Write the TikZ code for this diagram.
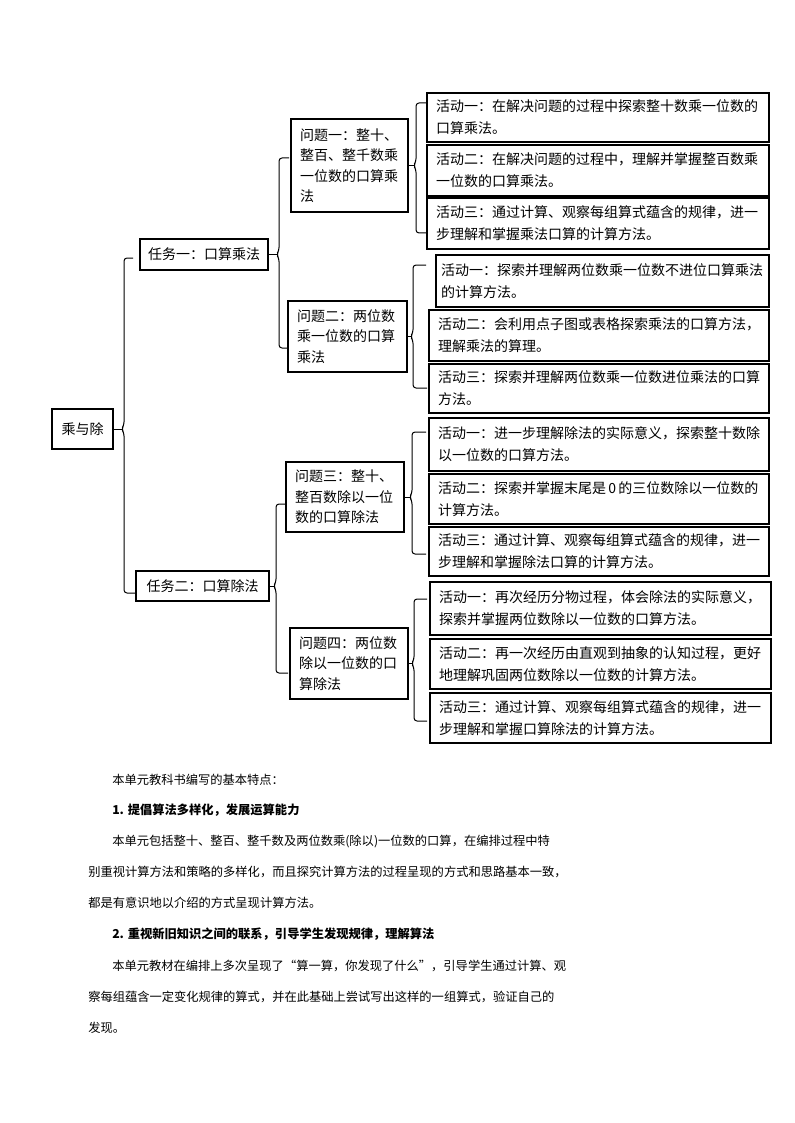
\documentclass[tikz,border=0pt]{standalone}
\usepackage{fontspec}
\setmainfont{Noto Sans CJK SC}
\usetikzlibrary{calc}
\newdimen\px \px=0.75pt
\tikzset{
  box/.style={draw, line width=0.85pt, inner ysep=0pt, inner xsep=9\px},
  act/.style={box, align=left, font=\fontsize{10.5pt}{16.5pt}\selectfont},
  que/.style={box, align=left, font=\fontsize{10.5pt}{15.3pt}\selectfont},
  tsk/.style={box, inner xsep=0pt, align=center, font=\fontsize{10.5pt}{15pt}\selectfont},
  brace/.style={draw, line width=0.75pt},
  body/.style={anchor=west, inner sep=0pt, font=\fontsize{9.2pt}{12pt}\selectfont},
}
\newcommand\mybrace[6]{%
  \draw[brace] (#1.east) -- ($(#2,0 |- #1.east)+(-2.5,0)$);
  \draw[brace, rounded corners=3\px] (#5,#3) -- (#2,#3)
     -- ($(#2,0 |- #1.east)+(0,-4)$) -- ($(#2,0 |- #1.east)+(-2.5,0)$)
     -- ($(#2,0 |- #1.east)+(0,4)$) -- (#2,#4) -- (#6,#4);
}
\begin{document}
\begin{tikzpicture}[x=0.75pt, y=-0.75pt]
\useasboundingbox (0,0) rectangle (794,1123);
% root
\node[tsk, minimum width=61\px, minimum height=40\px] (root) at (82.5,429) {乘与除};
% tasks
\node[tsk, minimum width=128\px, minimum height=31\px] (t1) at (204,254.5) {任务一：口算乘法};
\node[tsk, minimum width=133\px, minimum height=30\px] (t2) at (202.5,586) {任务二：口算除法};
% questions
\node[que, minimum height=93\px, text width=99\px] (q1) at (349.5,165.5) {问题一：整十、\\整百、整千数乘\\一位数的口算乘\\法};
\node[que, minimum height=71\px, text width=101\px] (q2) at (347.5,336.5) {问题二：两位数\\乘一位数的口算\\乘法};
\node[que, minimum height=70\px, text width=100\px] (q3) at (345,497) {问题三：整十、\\整百数除以一位\\数的口算除法};
\node[que, minimum height=71\px, text width=100\px] (q4) at (349,663.5) {问题四：两位数\\除以一位数的口\\算除法};
% activities
\node[act, minimum height=49\px, text width=324\px] (a11) at (598,117.5) {活动一：在解决问题的过程中探索整十数乘一位数的\\口算乘法。};
\node[act, minimum height=51\px, text width=324\px] (a12) at (598,170.5) {活动二：在解决问题的过程中，理解并掌握整百数乘\\一位数的口算乘法。};
\node[act, minimum height=51\px, text width=324\px] (a13) at (598,223.5) {活动三：通过计算、观察每组算式蕴含的规律，进一\\步理解和掌握乘法口算的计算方法。};
\node[act, inner xsep=5\px, minimum height=52\px, text width=323\px] (a21) at (602.5,281) {活动一：探索并理解两位数乘一位数不进位口算乘法\\的计算方法。};
\node[act, minimum height=51\px, text width=322\px] (a22) at (599,335.5) {活动二：会利用点子图或表格探索乘法的口算方法，\\理解乘法的算理。};
\node[act, minimum height=49\px, text width=322\px] (a23) at (599,388.5) {活动三：探索并理解两位数乘一位数进位乘法的口算\\方法。};
\node[act, minimum height=53\px, text width=322\px] (a31) at (599,444.5) {活动一：进一步理解除法的实际意义，探索整十数除\\以一位数的口算方法。};
\node[act, minimum height=50\px, text width=322\px] (a32) at (599,499) {活动二：探索并掌握末尾是\,0\,的三位数除以一位数的\\计算方法。};
\node[act, minimum height=49\px, text width=322\px] (a33) at (599,551.5) {活动三：通过计算、观察每组算式蕴含的规律，进一\\步理解和掌握除法口算的计算方法。};
\node[act, minimum height=53\px, text width=323\px] (a41) at (600.5,608.5) {活动一：再次经历分物过程，体会除法的实际意义，\\探索并掌握两位数除以一位数的口算方法。};
\node[act, minimum height=50\px, text width=323\px] (a42) at (600.5,664) {活动二：再一次经历由直观到抽象的认知过程，更好\\地理解巩固两位数除以一位数的计算方法。};
\node[act, minimum height=50\px, text width=323\px] (a43) at (600.5,718) {活动三：通过计算、观察每组算式蕴含的规律，进一\\步理解和掌握口算除法的计算方法。};
% braces
\mybrace{root}{124}{258}{593}{133}{135}
\mybrace{t1}{279}{158}{348}{289}{288}
\mybrace{t2}{276}{504}{673}{285}{288}
\mybrace{q1}{416}{103}{233}{426}{426}
\mybrace{q2}{413}{265}{388}{426}{427}
\mybrace{q3}{412}{432}{554}{426}{426}
\mybrace{q4}{414}{599}{721}{427}{427}
% body text
\node[body] (b1) at (112,780) {本单元教科书编写的基本特点：};
\node[body, font=\fontsize{9.2pt}{12pt}\selectfont\bfseries] (b2) at (112,810) {1. 提倡算法多样化，发展运算能力};
\node[body] (b3) at (112,841) {本单元包括整十、整百、整千数及两位数乘(除以)一位数的口算，在编排过程中特};
\node[body] (b4) at (88,872) {别重视计算方法和策略的多样化，而且探究计算方法的过程呈现的方式和思路基本一致，};
\node[body] (b5) at (88,903) {都是有意识地以介绍的方式呈现计算方法。};
\node[body, font=\fontsize{9.2pt}{12pt}\selectfont\bfseries] (b6) at (112,934) {2. 重视新旧知识之间的联系，引导学生发现规律，理解算法};
\node[body] (b7) at (112,966) {本单元教材在编排上多次呈现了“算一算，你发现了什么”，引导学生通过计算、观};
\node[body] (b8) at (88,997) {察每组蕴含一定变化规律的算式，并在此基础上尝试写出这样的一组算式，验证自己的};
\node[body] (b9) at (88,1028) {发现。};
\end{tikzpicture}
\end{document}
